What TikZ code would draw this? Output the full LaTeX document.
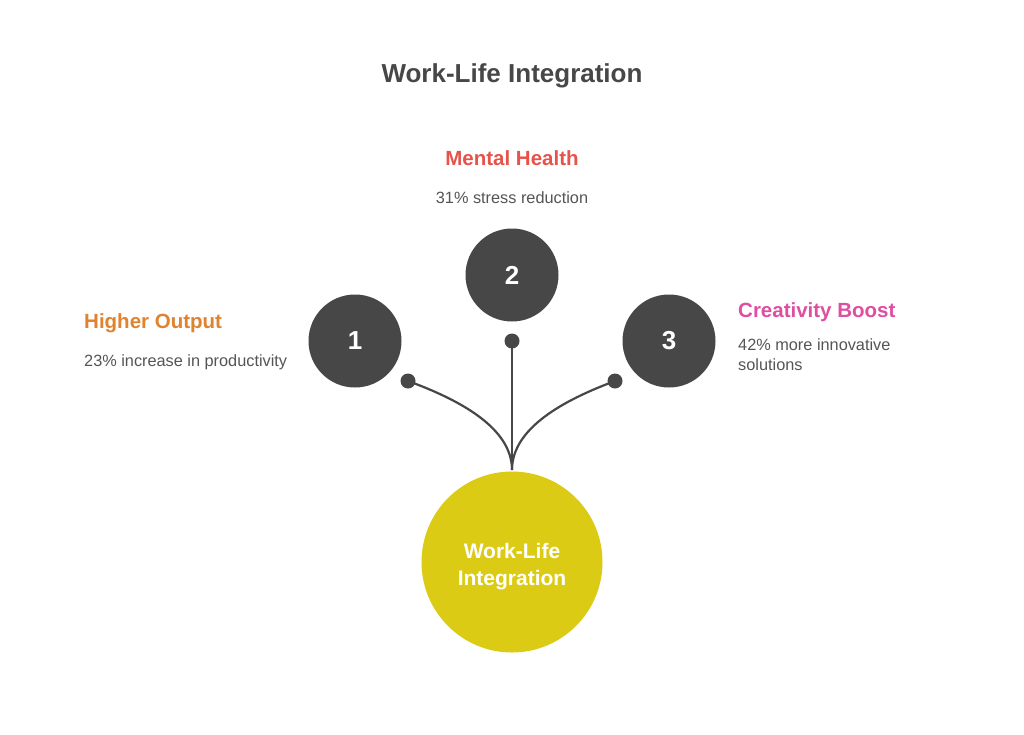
\documentclass[tikz,border=0pt]{standalone}
\usepackage{fontspec}
\setmainfont{Liberation Sans}
\definecolor{dark}{HTML}{474747}
\definecolor{txt}{HTML}{555555}
\definecolor{yel}{HTML}{DCCB15}
\definecolor{red1}{HTML}{E5534B}
\definecolor{ora}{HTML}{E0822F}
\definecolor{pink1}{HTML}{DE4FA0}
\begin{document}
\begin{tikzpicture}[x=1pt,y=-1pt,
  numcirc/.style={circle,fill=dark,minimum size=93pt,inner sep=0pt,text=white,font=\fontsize{26}{30}\selectfont\bfseries},
  dotnode/.style={circle,fill=dark,minimum size=15pt,inner sep=0pt},
  conn/.style={draw=dark,line width=2.2pt},
  head/.style={anchor=base,inner sep=0pt,font=\fontsize{20.5}{24}\selectfont\bfseries},
  body/.style={anchor=base,inner sep=0pt,text=txt,font=\fontsize{16.3}{20}\selectfont}]
\useasboundingbox (0,0) rectangle (1024,734);
\fill[white] (0,0) rectangle (1024,734);
% title
\node[anchor=base,inner sep=0pt,text=dark,font=\fontsize{26}{30}\selectfont\bfseries] (title) at (512,82) {Work-Life Integration};
% circles
\node[numcirc] (c1) at (355,341) {1};
\node[numcirc] (c2) at (512,275) {2};
\node[numcirc] (c3) at (669,341) {3};
\node[circle,fill=yel,minimum size=181pt,inner sep=0pt] (main) at (512,562) {};
\node[inner sep=0pt,text=white,align=center,font=\fontsize{21}{27}\selectfont\bfseries] (maintext) at ([yshift=-5pt]main.center) {Work-Life\\Integration};
% dots
\node[dotnode] (d1) at (408,381) {};
\node[dotnode] (d2) at (512,341) {};
\node[dotnode] (d3) at (615,381) {};
\coordinate (top) at (512,470);
% connectors
\draw[conn] (d1.center) .. controls (460,400) and (512,428) .. (top);
\draw[conn] (d2.center) -- (top);
\draw[conn] (d3.center) .. controls (564,400) and (512,428) .. (top);
% labels
\node[head,text=red1] (h2) at (512,165) {Mental Health};
\node[body] (b2) at (512,203) {31\% stress reduction};
\node[head,text=ora,anchor=base west] (h1) at (84,328) {Higher Output};
\node[body,anchor=base west] (b1) at (84,366) {23\% increase in productivity};
\node[head,text=pink1,anchor=base west] (h3) at (738,317) {Creativity Boost};
\node[body,anchor=base west] (b3a) at (738,350) {42\% more innovative};
\node[body,anchor=base west] (b3b) at (738,370) {solutions};
\end{tikzpicture}
\end{document}
